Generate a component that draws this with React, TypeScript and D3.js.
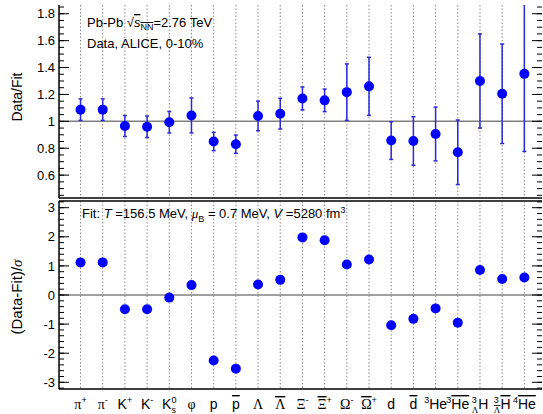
import React from 'react';
import * as d3 from 'd3';

const categories = ['pi+', 'pi-', 'K+', 'K-', 'K0s', 'phi', 'p', 'pbar', 'Lambda', 'Lambdabar', 'Xi-', 'Xibar+', 'Omega-', 'Omegabar+', 'd', 'dbar', '3He', '3Hebar', '3LH', '3LHbar', '4Hebar'];
const ratio = [1.087, 1.087, 0.965, 0.96, 0.993, 1.044, 0.85, 0.83, 1.04, 1.057, 1.17, 1.156, 1.217, 1.26, 0.857, 0.854, 0.906, 0.77, 1.30, 1.205, 1.353];
const ratioErr = [0.08, 0.08, 0.078, 0.08, 0.08, 0.13, 0.068, 0.068, 0.11, 0.114, 0.085, 0.084, 0.21, 0.216, 0.14, 0.18, 0.2, 0.24, 0.35, 0.37, 0.577];
const deviation = [1.12, 1.12, -0.49, -0.49, -0.09, 0.34, -2.25, -2.53, 0.36, 0.52, 1.98, 1.88, 1.05, 1.22, -1.04, -0.82, -0.46, -0.95, 0.86, 0.55, 0.6];
const ratioTicks = [0.6, 0.8, 1, 1.2, 1.4, 1.6, 1.8];
const devTicks = [-3, -2, -1, 0, 1, 2, 3];

type Seg = { t: string; greek?: boolean; bar?: boolean; pre?: boolean; sup?: string; sub?: string; subGreek?: boolean; subBar?: boolean };
const labelSegs: Seg[][] = [
  [{ t: 'π', greek: true, sup: '+' }],
  [{ t: 'π', greek: true, sup: '-' }],
  [{ t: 'K', sup: '+' }],
  [{ t: 'K', sup: '-' }],
  [{ t: 'K', sup: '0', sub: 's' }],
  [{ t: 'φ', greek: true }],
  [{ t: 'p' }],
  [{ t: 'p', bar: true }],
  [{ t: 'Λ', greek: true }],
  [{ t: 'Λ', greek: true, bar: true }],
  [{ t: 'Ξ', greek: true, sup: '-' }],
  [{ t: 'Ξ', greek: true, bar: true, sup: '+' }],
  [{ t: 'Ω', greek: true, sup: '-' }],
  [{ t: 'Ω', greek: true, bar: true, sup: '+' }],
  [{ t: 'd' }],
  [{ t: 'd', bar: true }],
  [{ t: 'He', pre: true, sup: '3' }],
  [{ t: 'He', bar: true, pre: true, sup: '3' }],
  [{ t: 'H', pre: true, sup: '3', sub: 'Λ', subGreek: true }],
  [{ t: 'H', bar: true, pre: true, sup: '3', sub: 'Λ', subGreek: true, subBar: true }],
  [{ t: 'He', bar: true, pre: true, sup: '4' }],
];

const W = 543, H = 414;
const L = 59, R = 542;
const topY0 = 5, topY1 = 198, botY0 = 201, botY1 = 389;
const SANS = '"Liberation Sans", Arial, Helvetica, sans-serif';
const SERIF = '"Liberation Serif", "Times New Roman", serif';

const x = d3.scaleLinear().domain([-0.97, 20.75]).range([L, R - 1]);
const yTop = d3.scaleLinear().domain([0.43, 1.865]).range([topY1, topY0]);
const yBot = d3.scaleLinear().domain([-3.23, 3.23]).range([botY1, botY0]);

const scriptW = (s: string, greek?: boolean) => (greek ? 6.5 : s === '+' ? 5.3 : s === '-' ? 3 : s === 's' ? 4.5 : 5) * s.length;

function renderLabel(segs: Seg[], key: number, cx: number) {
  const spans: JSX.Element[] = [];
  let cur = 0;
  let k = 0;
  const push = (text: string, off: number, size: number, opts: { greek?: boolean; bar?: boolean; dx?: number } = {}) => {
    spans.push(
      <tspan key={k++} dy={off - cur} dx={opts.dx || 0} fontSize={size}
        fontFamily={opts.greek ? SERIF : SANS}
        style={opts.bar ? { textDecoration: 'overline' } : undefined}>{text}</tspan>
    );
    cur = off;
  };
  const scripts = (s: Seg) => {
    if (s.sup && s.sub) {
      push(s.sup, -6, 9);
      push(s.sub, 4, 9, { dx: -scriptW(s.sup), greek: s.subGreek, bar: s.subBar });
    } else if (s.sup) {
      push(s.sup, -6, 9);
    }
  };
  segs.forEach((s) => {
    if (s.pre) scripts(s);
    push(s.t, 0, 14, { greek: s.greek, bar: s.bar });
    if (!s.pre) scripts(s);
  });
  return (
    <text key={key} x={cx} y={409} textAnchor="middle" fill="#000">{spans}</text>
  );
}

export default function App() {
  const topMinor = d3.range(0.45, 1.86, 0.05);
  const botMinor = d3.range(-3.2, 3.21, 0.2);
  const idx = categories.map((_, i) => i);
  return (
    <svg width={W} height={H} style={{ position: 'absolute', left: 0, top: 0, background: '#fff' }} fontFamily={SANS}>
      <defs>
        <clipPath id="clipTop"><rect x={L} y={topY0} width={R - L} height={topY1 - topY0} /></clipPath>
      </defs>
      <rect x={0} y={0} width={W} height={H} fill="#fff" />
      {idx.map((i) => (
        <g key={'v' + i} stroke="#8a8a8a" strokeWidth={1} strokeDasharray="1.5,2">
          <line x1={x(i)} x2={x(i)} y1={topY0} y2={topY1} />
          <line x1={x(i)} x2={x(i)} y1={botY0} y2={botY1} />
        </g>
      ))}
      <line x1={L} x2={R} y1={yTop(1)} y2={yTop(1)} stroke="#808080" strokeWidth={1.5} />
      <line x1={L} x2={R} y1={yBot(0)} y2={yBot(0)} stroke="#808080" strokeWidth={1.5} />

      <g stroke="#000" strokeWidth={1.5} fill="none">
        <line x1={L} x2={L} y1={topY0} y2={topY1} />
        <line x1={L} x2={R} y1={topY1} y2={topY1} />
        <line x1={L} x2={L} y1={botY0} y2={botY1} />
        <line x1={L} x2={R} y1={botY0} y2={botY0} />
        <line x1={L} x2={R} y1={botY1} y2={botY1} />
      </g>
      <g stroke="#000" strokeWidth={1}>
        {topMinor.map((v, i) => (
          <g key={'tm' + i}>
            <line x1={L} x2={L + 5} y1={yTop(v)} y2={yTop(v)} />
            <line x1={R} x2={R - 5} y1={yTop(v)} y2={yTop(v)} />
          </g>
        ))}
        {ratioTicks.map((v) => (
          <g key={'tM' + v}>
            <line x1={L} x2={L + 10} y1={yTop(v)} y2={yTop(v)} />
            <line x1={R} x2={R - 10} y1={yTop(v)} y2={yTop(v)} />
          </g>
        ))}
        {botMinor.map((v, i) => (
          <g key={'bm' + i}>
            <line x1={L} x2={L + 5} y1={yBot(v)} y2={yBot(v)} />
            <line x1={R} x2={R - 5} y1={yBot(v)} y2={yBot(v)} />
          </g>
        ))}
        {devTicks.map((v) => (
          <g key={'bM' + v}>
            <line x1={L} x2={L + 10} y1={yBot(v)} y2={yBot(v)} />
            <line x1={R} x2={R - 10} y1={yBot(v)} y2={yBot(v)} />
          </g>
        ))}
      </g>
      {ratioTicks.map((v) => (
        <text key={'tl' + v} x={55} y={yTop(v)} dy="0.36em" textAnchor="end" fontSize={13}>{String(v)}</text>
      ))}
      {devTicks.map((v) => (
        <text key={'bl' + v} x={55} y={yBot(v)} dy="0.36em" textAnchor="end" fontSize={13}>{String(v)}</text>
      ))}
      <text transform={`translate(22,${97}) rotate(-90)`} textAnchor="middle" fontSize={14}>Data/Fit</text>
      <text transform={`translate(22,${297}) rotate(-90)`} textAnchor="middle" fontSize={15}>
        (Data-Fit)/<tspan fontFamily={SERIF} fontStyle="italic">σ</tspan>
      </text>

      <g clipPath="url(#clipTop)">
        {idx.map((i) => (
          <g key={'e' + i} stroke="#2a2ad6" strokeWidth={1.5}>
            <line x1={x(i)} x2={x(i)} y1={yTop(ratio[i] - ratioErr[i])} y2={yTop(ratio[i] + ratioErr[i])} />
            <line x1={x(i) - 2} x2={x(i) + 2} y1={yTop(ratio[i] - ratioErr[i])} y2={yTop(ratio[i] - ratioErr[i])} />
            <line x1={x(i) - 2} x2={x(i) + 2} y1={yTop(ratio[i] + ratioErr[i])} y2={yTop(ratio[i] + ratioErr[i])} />
          </g>
        ))}
        {idx.map((i) => (
          <circle key={'c' + i} cx={x(i)} cy={yTop(ratio[i])} r={5} fill="#0000ff" />
        ))}
      </g>
      {idx.map((i) => (
        <circle key={'d' + i} cx={x(i)} cy={yBot(deviation[i])} r={5} fill="#0000ff" />
      ))}

      <text x={87} y={27} fontSize={13}>
        Pb-Pb <tspan>√</tspan><tspan fontStyle="italic" style={{ textDecoration: 'overline' }}>s</tspan><tspan fontSize={9} dy={3} style={{ textDecoration: 'overline' }}>NN</tspan><tspan dy={-3}>=2.76 TeV</tspan>
      </text>
      <text x={87} y={48} fontSize={13}>Data, ALICE, 0-10%</text>
      <text x={82} y={218} fontSize={13}>
        Fit: <tspan fontStyle="italic">T</tspan> =156.5 MeV, <tspan fontFamily={SERIF} fontStyle="italic">μ</tspan><tspan fontSize={9} dy={4}>B</tspan><tspan dy={-4}> = 0.7 MeV, </tspan><tspan fontStyle="italic">V</tspan> =5280 fm<tspan fontSize={9} dy={-5}>3</tspan>
      </text>

      {labelSegs.map((segs, i) => renderLabel(segs, i, x(i)))}
    </svg>
  );
}
